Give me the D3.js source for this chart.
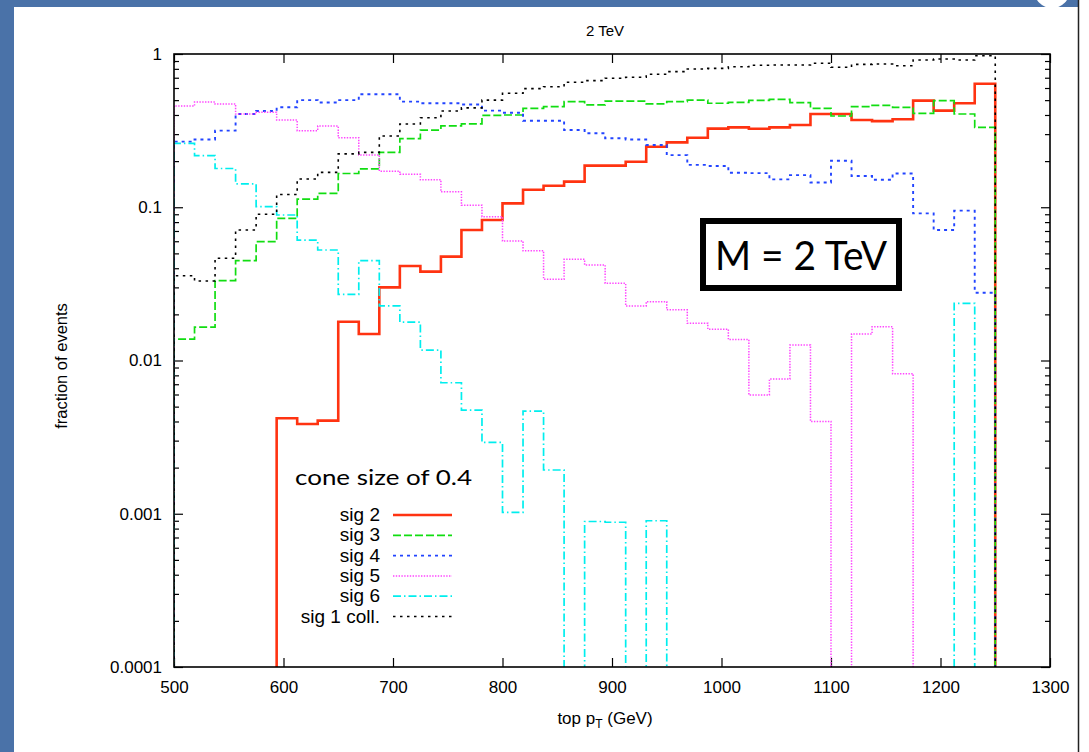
<!DOCTYPE html>
<html><head><meta charset="utf-8">
<script src="https://cdn.jsdelivr.net/npm/d3@7"></script>
<style>
html,body{margin:0;padding:0;background:#fff;}
svg{display:block;}
text{font-family:"Liberation Sans",Arial,sans-serif;fill:#000;}
</style></head>
<body>
<svg id="chart" width="1089" height="752"></svg>
<script>
// ---- data ----
const binEdges = [500,518.75,537.5,556.25,575,593.75,612.5,631.25,650,668.75,687.5,706.25,725,743.75,762.5,781.25,800,818.75,837.5,856.25,875,893.75,912.5,931.25,950,968.75,987.5,1006.25,1025,1043.75,1062.5,1081.25,1100,1118.75,1137.5,1156.25,1175,1193.75,1212.5,1231.25,1250];
const sig2 = [0,0,0,0,0,0.0042,0.00385,0.00405,0.0179,0.0149,0.030,0.0414,0.038,0.0476,0.071,0.0826,0.106,0.130,0.138,0.147,0.187,0.187,0.198,0.248,0.265,0.284,0.326,0.332,0.325,0.332,0.344,0.406,0.406,0.371,0.365,0.375,0.496,0.427,0.477,0.64];
const sig3 = [0.0138,0.0165,0.0332,0.0448,0.0596,0.0847,0.113,0.123,0.166,0.178,0.228,0.28,0.319,0.34,0.35,0.398,0.40,0.442,0.453,0.489,0.465,0.493,0.493,0.472,0.489,0.50,0.477,0.484,0.498,0.506,0.482,0.442,0.394,0.453,0.462,0.449,0.41,0.496,0.406,0.332];
const sig4 = [0.268,0.277,0.316,0.406,0.425,0.449,0.50,0.482,0.50,0.546,0.546,0.489,0.477,0.477,0.468,0.427,0.414,0.367,0.367,0.319,0.304,0.282,0.277,0.255,0.219,0.189,0.186,0.168,0.167,0.152,0.162,0.145,0.201,0.16,0.151,0.166,0.0912,0.071,0.095,0.0277];
const sig5 = [0.458,0.486,0.472,0.406,0.417,0.371,0.316,0.339,0.284,0.219,0.172,0.164,0.151,0.126,0.103,0.0868,0.0602,0.052,0.0339,0.0457,0.042,0.0319,0.0227,0.0242,0.0214,0.0175,0.016,0.0137,0.00596,0.00757,0.0126,0.004,0,0.0149,0.0166,0.0082,0,0,0,0];
const sig6 = [0.261,0.217,0.179,0.142,0.101,0.089,0.0611,0.0526,0.027,0.0448,0.0227,0.0178,0.0117,0.00716,0.00475,0.00292,0.00102,0.00468,0.00193,0,0.00089,0.00088,0,0.0009,0,0,0,0,0,0,0,0,0,0,0,0,0,0,0.0236,0];
const sig1coll = [0.0357,0.033,0.0465,0.071,0.09,0.121,0.153,0.169,0.223,0.228,0.292,0.349,0.384,0.425,0.445,0.50,0.554,0.594,0.612,0.654,0.67,0.694,0.705,0.737,0.767,0.798,0.806,0.826,0.845,0.848,0.848,0.87,0.82,0.856,0.86,0.839,0.914,0.927,0.914,0.975];
const seriesNames = ["sig 2","sig 3","sig 4","sig 5","sig 6","sig 1 coll."];
const xTicks = [500,600,700,800,900,1000,1100,1200,1300];
const yTicks = [0.0001,0.001,0.01,0.1,1];
const yTickLabels = ["0.0001","0.001","0.01","0.1","1"];

// ---- styles ----
const styles = [
  {color:"#ff3311", width:2.6, dash:null},
  {color:"#11dd11", width:1.7, dash:"8,3"},
  {color:"#2244ff", width:1.9, dash:"3,4"},
  {color:"#ff44ff", width:1.5, dash:"1.4,1.4"},
  {color:"#00eeee", width:1.7, dash:"8,3,1.5,3"},
  {color:"#000000", width:1.6, dash:"2.5,4.5"}
];
const seriesData = [sig2,sig3,sig4,sig5,sig6,sig1coll];

const svg = d3.select("#chart");
const W=1089,H=752;
const L=174,R=1050,T=54,B=667;

// slide frame
svg.append("rect").attr("x",0).attr("y",0).attr("width",W).attr("height",H).attr("fill","#fff");
svg.append("rect").attr("x",0).attr("y",0).attr("width",W).attr("height",7).attr("fill","#4a72a8");
svg.append("rect").attr("x",0).attr("y",0).attr("width",14).attr("height",H).attr("fill","#4a72a8");
svg.append("rect").attr("x",1078).attr("y",0).attr("width",11).attr("height",7).attr("fill","#fff");
svg.append("line").attr("x1",1078.5).attr("x2",1078.5).attr("y1",0).attr("y2",H).attr("stroke","#222").attr("stroke-width",1.5);
svg.append("circle").attr("cx",1052).attr("cy",-10).attr("r",18).attr("fill","#fff");

const x = d3.scaleLinear().domain([500,1300]).range([L,R]);
const y = d3.scaleLog().domain([1e-4,1]).range([B,T]);

svg.append("defs").append("clipPath").attr("id","plotclip")
  .append("rect").attr("x",L).attr("y",T).attr("width",R-L).attr("height",B-T);

const minorVals = [];
[1e-4,1e-3,1e-2,1e-1].forEach(d=>{ for(let k=2;k<=9;k++) minorVals.push(d*k); });

function styleAxis(g){
  g.select(".domain").remove();
  g.selectAll(".tick line").attr("stroke","#000").attr("stroke-width",1.2);
  g.selectAll(".tick text").style("font-size","17px").style("font-family","'Liberation Sans',Arial,sans-serif");
}
svg.append("g").attr("transform",`translate(0,${B})`)
  .call(d3.axisBottom(x).tickValues(xTicks).tickSizeInner(-9).tickSizeOuter(0).tickPadding(14).tickFormat(d3.format("d")))
  .call(styleAxis);
svg.append("g").attr("transform",`translate(0,${T})`)
  .call(d3.axisTop(x).tickValues(xTicks).tickSizeInner(-9).tickSizeOuter(0).tickFormat(""))
  .call(styleAxis);
svg.append("g").attr("transform",`translate(${L},0)`)
  .call(d3.axisLeft(y).tickValues(yTicks).tickSizeInner(-9).tickSizeOuter(0).tickPadding(12).tickFormat((d,i)=>yTickLabels[i]))
  .call(styleAxis);
svg.append("g").attr("transform",`translate(${L},0)`)
  .call(d3.axisLeft(y).tickValues(minorVals).tickSizeInner(-5).tickSizeOuter(0).tickFormat(""))
  .call(styleAxis);
svg.append("g").attr("transform",`translate(${R},0)`)
  .call(d3.axisRight(y).tickValues(yTicks).tickSizeInner(-9).tickSizeOuter(0).tickFormat(""))
  .call(styleAxis);
svg.append("g").attr("transform",`translate(${R},0)`)
  .call(d3.axisRight(y).tickValues(minorVals).tickSizeInner(-5).tickSizeOuter(0).tickFormat(""))
  .call(styleAxis);

// series
const plot = svg.append("g").attr("clip-path","url(#plotclip)");
const lineGen = d3.line().x(d=>d[0]).y(d=>d[1]);
seriesData.forEach((vals,si)=>{
  const yy = v => v>0 ? y(v) : B+20;
  const pts = [[x(binEdges[0]), B+20]];
  vals.forEach((v,i)=>{
    pts.push([x(binEdges[i]), yy(v)]);
    pts.push([x(binEdges[i+1]), yy(v)]);
  });
  pts.push([x(binEdges[binEdges.length-1]), B+20]);
  const st = styles[si];
  plot.append("path").attr("d",lineGen(pts)).attr("fill","none")
    .attr("stroke",st.color).attr("stroke-width",st.width)
    .attr("stroke-dasharray",st.dash).attr("stroke-linejoin","miter");
});

svg.append("rect").attr("x",L).attr("y",T).attr("width",R-L).attr("height",B-T)
  .attr("fill","none").attr("stroke","#000").attr("stroke-width",1.6);

// titles
svg.append("text").attr("x",605).attr("y",36).attr("text-anchor","middle").style("font-size","15px").text("2 TeV");
const xt = svg.append("text").attr("x",605).attr("y",724).attr("text-anchor","middle").style("font-size","17px");
xt.append("tspan").text("top p");
xt.append("tspan").attr("dy",4).style("font-size","12px").text("T");
xt.append("tspan").attr("dy",-4).text(" (GeV)");
svg.append("text").attr("transform","translate(67,366) rotate(-90)").attr("text-anchor","middle").style("font-size","16.5px").text("fraction of events");

// legend
svg.append("text").attr("x",295).attr("y",485).style("font-family","Lato,'Open Sans',sans-serif")
  .style("font-size","22px").attr("textLength",177).attr("lengthAdjust","spacingAndGlyphs").text("cone size of 0.4");
const legY0 = 515, legDy = 20.3;
seriesNames.forEach((name,i)=>{
  const yy = legY0 + i*legDy;
  svg.append("text").attr("x",380).attr("y",yy+6).attr("text-anchor","end").style("font-size","19px").text(name);
  const st = styles[i];
  svg.append("line").attr("x1",393).attr("x2",452).attr("y1",yy).attr("y2",yy)
    .attr("stroke",st.color).attr("stroke-width",st.width).attr("stroke-dasharray",st.dash);
});

// M = 2 TeV box
svg.append("rect").attr("x",703).attr("y",221).attr("width",196).attr("height",67)
  .attr("fill","#fff").attr("stroke","#000").attr("stroke-width",6);
svg.append("text").attr("x",715).attr("y",270).style("font-family","Lato,'Open Sans',sans-serif")
  .style("font-size","41px").attr("textLength",172).attr("lengthAdjust","spacingAndGlyphs").text("M = 2 TeV");
</script>
</body></html>
